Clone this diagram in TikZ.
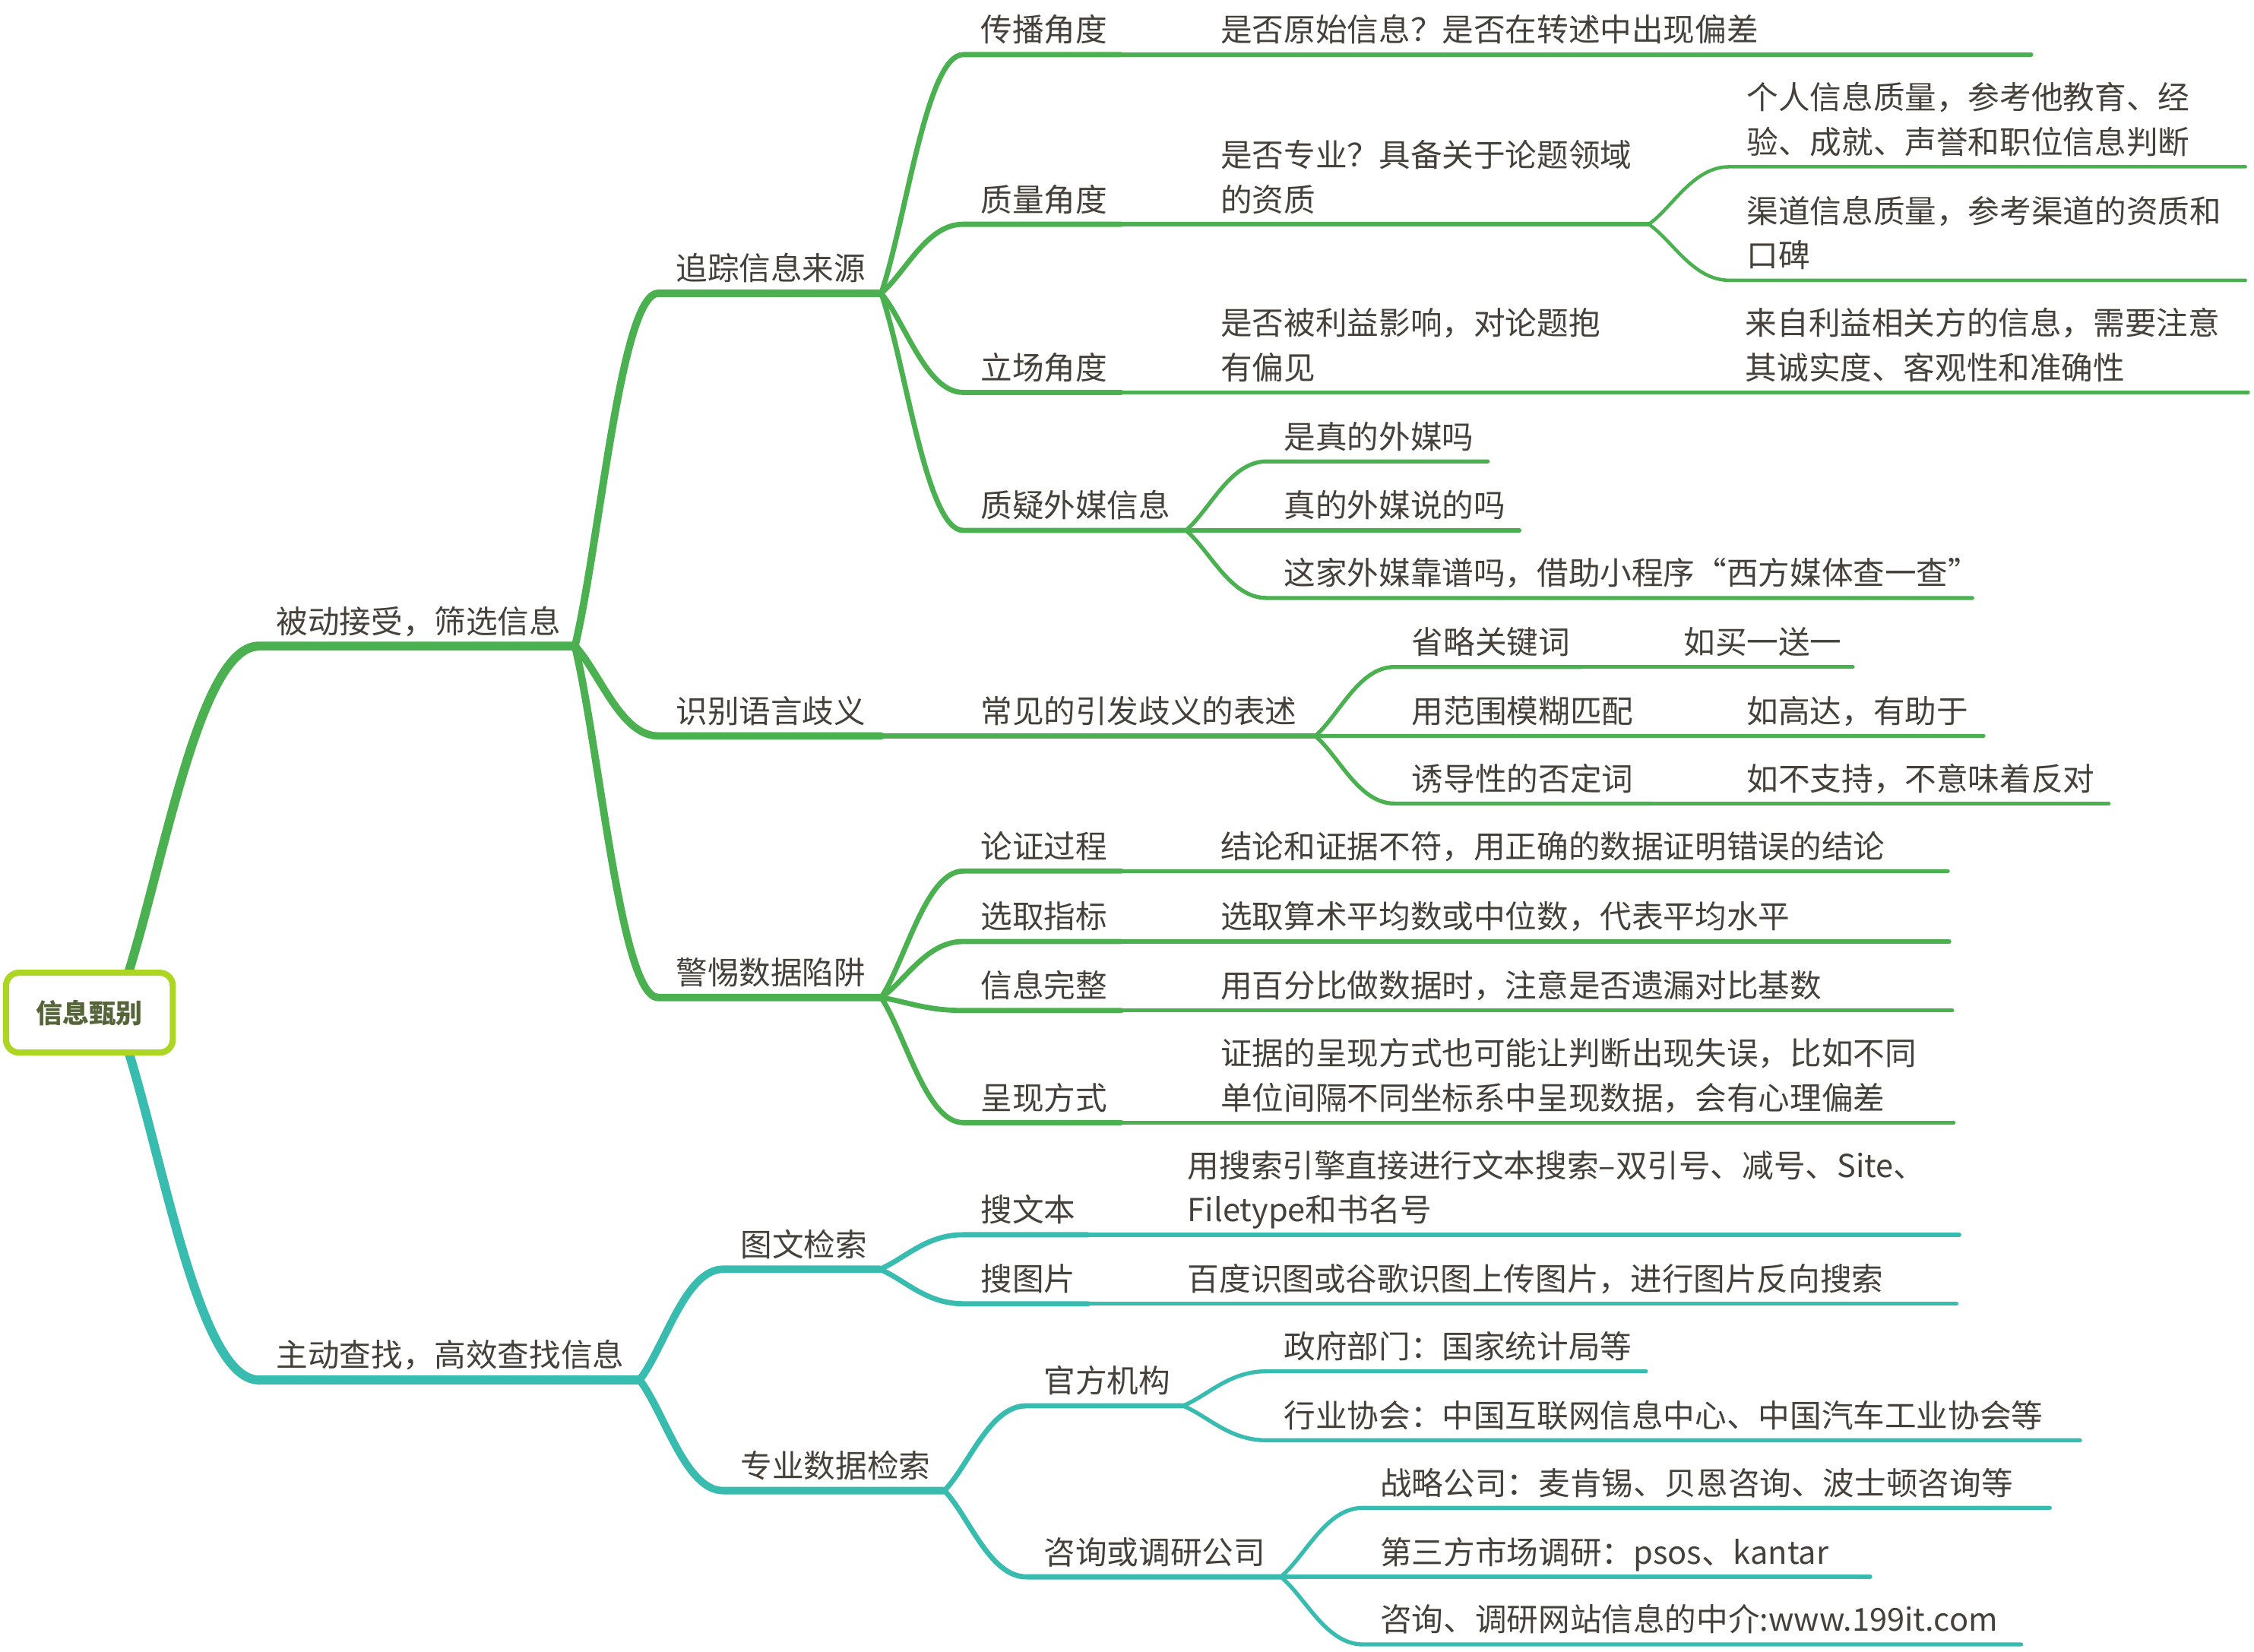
\documentclass[tikz,border=0pt]{standalone}
\usepackage{fontspec}
\setmainfont{Noto Sans CJK SC}
\usetikzlibrary{calc}
\definecolor{gr}{HTML}{4AB050}
\definecolor{tl}{HTML}{38BCB0}
\definecolor{rootb}{HTML}{ADD524}
\definecolor{roott}{HTML}{56643A}
\definecolor{ink}{HTML}{45403A}
\tikzset{
  branch/.style={to path={let \p1=(\tikztostart), \p2=(\tikztotarget) in
     .. controls ({\x1+0.3*(\x2-\x1)},{\y1+0.3*(\y2-\y1)}) and ({\x1+0.55*(\x2-\x1)},{\y2}) .. (\tikztotarget)}},
  lvA/.style={line width=6.3pt, line cap=round, line join=round},
  lvB/.style={line width=5.2pt, line cap=round, line join=round},
  lvC/.style={line width=3.6pt, line cap=round, line join=round},
  lvD/.style={line width=2.8pt, line cap=round, line join=round},
  lvE/.style={line width=2.4pt, line cap=round, line join=round},
  txt/.style={anchor=base west, inner sep=0pt, text=ink, font=\fontsize{22}{31}\selectfont},
  rootbox/.style={draw=rootb, line width=4.3pt, rounded corners=9pt, fill=white,
     minimum width=116pt, minimum height=55.5pt, inner sep=0pt, text=roott,
     font=\fontsize{18.5}{20}\selectfont\bfseries}
}
% #1 name, #2 parent, #3 line style, #4 start x, #5 underline y, #6 end x, #7 text
\newcommand\mmnode[7]{%
  \coordinate (#1-s) at (#4,#5);
  \coordinate (#1-e) at (#6,#5);
  \draw[#3] (#2-e) to[branch] (#1-s) -- (#1-e);
  \node[txt] (#1) at ({#4+12},{#5-9}) {#7};
}
\newcommand\twol[2]{\begin{tabular}[b]{@{}l@{}}#1\\#2\end{tabular}}
\begin{document}
\begin{tikzpicture}[x=1pt,y=-1pt]
\useasboundingbox (0,0) rectangle (1568,1149);
\coordinate (root-e) at (80,704);

% ---- green branch
\mmnode{A}{root}{lvA,gr}{180}{449.5}{400}{被动接受，筛选信息}
\mmnode{A1}{A}{lvB,gr}{458}{204}{613}{追踪信息来源}
\mmnode{A2}{A}{lvB,gr}{458}{512}{613}{识别语言歧义}
\mmnode{A3}{A}{lvB,gr}{458}{694}{613}{警惕数据陷阱}

\mmnode{A1a}{A1}{lvC,gr}{670}{38}{780}{传播角度}
\mmnode{A1b}{A1}{lvC,gr}{670}{156}{780}{质量角度}
\mmnode{A1c}{A1}{lvC,gr}{670}{273}{780}{立场角度}
\mmnode{A1d}{A1}{lvC,gr}{670}{369}{825}{质疑外媒信息}

\mmnode{A1a1}{A1a}{lvD,gr}{837}{38}{1413}{是否原始信息？是否在转述中出现偏差}
\mmnode{A1b1}{A1b}{lvD,gr}{837}{156}{1147}{\twol{是否专业？具备关于论题领域}{的资质}}
\mmnode{A1b1a}{A1b1}{lvE,gr}{1203}{116}{1562}{\twol{个人信息质量，参考他教育、经}{验、成就、声誉和职位信息判断}}
\mmnode{A1b1b}{A1b1}{lvE,gr}{1203}{195}{1562}{\twol{渠道信息质量，参考渠道的资质和}{口碑}}
\mmnode{A1c1}{A1c}{lvD,gr}{837}{273}{1143}{\twol{是否被利益影响，对论题抱}{有偏见}}
\mmnode{A1c1a}{A1c1}{lvE,gr}{1202}{273}{1564}{\twol{来自利益相关方的信息，需要注意}{其诚实度、客观性和准确性}}
\mmnode{A1d1}{A1d}{lvD,gr}{881}{321}{1035}{是真的外媒吗}
\mmnode{A1d2}{A1d}{lvD,gr}{881}{369}{1057}{真的外媒说的吗}
\mmnode{A1d3}{A1d}{lvD,gr}{881}{416}{1372}{这家外媒靠谱吗，借助小程序“西方媒体查一查”}

\mmnode{A2a}{A2}{lvC,gr}{670}{512}{915}{常见的引发歧义的表述}
\mmnode{A2a1}{A2a}{lvD,gr}{970}{464}{1100}{省略关键词}
\mmnode{A2a1a}{A2a1}{lvE,gr}{1159}{464}{1289}{如买一送一}
\mmnode{A2a2}{A2a}{lvD,gr}{970}{512}{1148}{用范围模糊匹配}
\mmnode{A2a2a}{A2a2}{lvE,gr}{1203}{512}{1380}{如高达，有助于}
\mmnode{A2a3}{A2a}{lvD,gr}{970}{559}{1148}{诱导性的否定词}
\mmnode{A2a3a}{A2a3}{lvE,gr}{1203}{559}{1467}{如不支持，不意味着反对}

\mmnode{A3a}{A3}{lvC,gr}{670}{606}{780}{论证过程}
\mmnode{A3a1}{A3a}{lvD,gr}{837}{606}{1355}{结论和证据不符，用正确的数据证明错误的结论}
\mmnode{A3b}{A3}{lvC,gr}{670}{655}{780}{选取指标}
\mmnode{A3b1}{A3b}{lvD,gr}{837}{655}{1356}{选取算术平均数或中位数，代表平均水平}
\mmnode{A3c}{A3}{lvC,gr}{670}{703}{780}{信息完整}
\mmnode{A3c1}{A3c}{lvD,gr}{837}{703}{1358}{用百分比做数据时，注意是否遗漏对比基数}
\mmnode{A3d}{A3}{lvC,gr}{670}{781}{780}{呈现方式}
\mmnode{A3d1}{A3d}{lvD,gr}{837}{781}{1359}{\twol{证据的呈现方式也可能让判断出现失误，比如不同}{单位间隔不同坐标系中呈现数据，会有心理偏差}}

% ---- teal branch
\mmnode{B}{root}{lvA,tl}{180}{960}{445}{主动查找，高效查找信息}
\mmnode{B1}{B}{lvB,tl}{503}{883}{612}{图文检索}
\mmnode{B1a}{B1}{lvC,tl}{670}{859}{757}{搜文本}
\mmnode{B1a1}{B1a}{lvD,tl}{814}{859}{1363}{\twol{用搜索引擎直接进行文本搜索–双引号、减号、Site、}{Filetype和书名号}}
\mmnode{B1b}{B1}{lvC,tl}{670}{907}{757}{搜图片}
\mmnode{B1b1}{B1b}{lvD,tl}{814}{907}{1361}{百度识图或谷歌识图上传图片，进行图片反向搜索}
\mmnode{B2}{B}{lvB,tl}{503}{1037}{657}{专业数据检索}
\mmnode{B2a}{B2}{lvC,tl}{714}{978}{823}{官方机构}
\mmnode{B2a1}{B2a}{lvD,tl}{881}{954}{1145}{政府部门：国家统计局等}
\mmnode{B2a2}{B2a}{lvD,tl}{881}{1002}{1447}{行业协会：中国互联网信息中心、中国汽车工业协会等}
\mmnode{B2b}{B2}{lvC,tl}{714}{1097}{891}{咨询或调研公司}
\mmnode{B2b1}{B2b}{lvD,tl}{948}{1049}{1426}{战略公司：麦肯锡、贝恩咨询、波士顿咨询等}
\mmnode{B2b2}{B2b}{lvD,tl}{948}{1097}{1301}{第三方市场调研：psos、kantar}
\mmnode{B2b3}{B2b}{lvD,tl}{948}{1144}{1406}{咨询、调研网站信息的中介:www.199it.com}

% ---- root
\node[rootbox] (root) at (62.2,704.5) {信息甄别};
\end{tikzpicture}
\end{document}
